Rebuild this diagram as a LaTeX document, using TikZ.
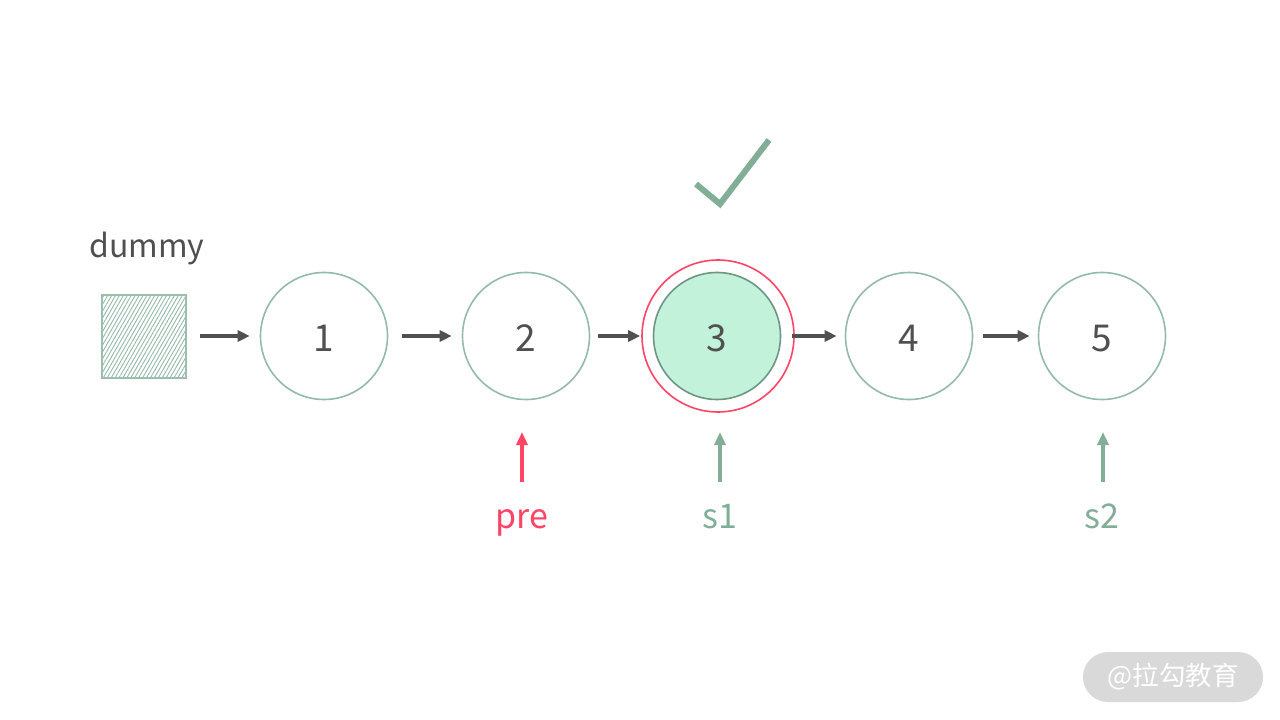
\documentclass[tikz,border=0pt]{standalone}
\usepackage{fontspec}
\setmainfont{Noto Sans CJK SC}
\usetikzlibrary{arrows.meta,patterns.meta}
\definecolor{ink}{HTML}{505050}
\definecolor{ring}{HTML}{93BBA8}
\definecolor{gr}{HTML}{82AE98}
\definecolor{red}{HTML}{FF4466}
\definecolor{fillg}{HTML}{C2F2DA}
\definecolor{dark}{HTML}{6F9684}
\definecolor{pill}{HTML}{D9D9D9}
\tikzset{
  nodecirc/.style={circle,draw=ring,line width=1.6pt,minimum size=127pt,inner sep=0pt,
    text height=30pt,text depth=0pt,font=\fontsize{37}{40}\selectfont,text=ink},
  link/.style={draw=ink,line width=4pt,-{Triangle[length=12pt,width=11pt]}},
  ptr/.style={line width=3.6pt,-{Triangle[length=13pt,width=11pt]}},
  lbl/.style={font=\fontsize{34}{38}\selectfont,anchor=base,inner sep=0pt},
}
\begin{document}
\begin{tikzpicture}[x=1pt,y=-1pt]
\useasboundingbox[fill=white] (0,0) rectangle (1280,720);
% dummy
\node[lbl,text=ink,font=\fontsize{32}{36}\selectfont] (dlabel) at (147,257) {dummy};
\node[draw=gr!80,line width=1.2pt,minimum width=84pt,minimum height=83pt,inner sep=0pt,
  pattern={Lines[angle=60,distance=3.4pt,line width=0.9pt]},pattern color=gr!85] (dummy) at (144,336.5) {};
% nodes
\node[nodecirc] (n1) at (324,336) {1};
\node[nodecirc] (n2) at (526,336) {2};
\node[nodecirc,fill=fillg,draw=dark] (n3) at (717,336) {3};
\node[nodecirc] (n4) at (909,336) {4};
\node[nodecirc] (n5) at (1102,336) {5};
\node[circle,draw=red,line width=1.6pt,minimum size=152pt,inner sep=0pt] (r3) at (718,336) {};
% links
\draw[link] ([xshift=14pt]dummy.east |- n1.center) -- ([xshift=-10pt]n1.west);
\draw[link] ([xshift=14pt]n1.east) -- ([xshift=-10pt]n2.west);
\draw[link] ([xshift=8pt]n2.east) -- ([xshift=-1pt]r3.west);
\draw[link] ([xshift=-3pt]r3.east) -- ([xshift=-8pt]n4.west);
\draw[link] ([xshift=10pt]n4.east) -- ([xshift=-8pt]n5.west);
% check mark
\coordinate (c1) at (696,184);
\coordinate (c2) at (720,204);
\coordinate (c3) at (769,140);
\draw[gr,line width=6pt,line join=miter] (c1) -- (c2) -- (c3);
% pointers
\node[lbl,text=red] (pre) at (522,528) {pre};
\node[lbl,text=gr] (s1) at (720,528) {s1};
\node[lbl,text=gr] (s2) at (1102,528) {s2};
\coordinate (pa) at (522,432);
\coordinate (sa) at (720,432);
\coordinate (sb) at (1103,432);
\draw[ptr,red] (pre.base |- 0,482) -- (pa);
\draw[ptr,gr] (s1.base |- 0,482) -- (sa);
\draw[ptr,gr] (sb |- 0,482) -- (sb);
% watermark
\node[fill=pill,rounded corners=25pt,minimum width=180pt,minimum height=50pt,inner sep=0pt,
  text=white,font=\fontsize{26.5}{30}\selectfont] (wm) at (1173,677) {@拉勾教育};
\end{tikzpicture}
\end{document}
